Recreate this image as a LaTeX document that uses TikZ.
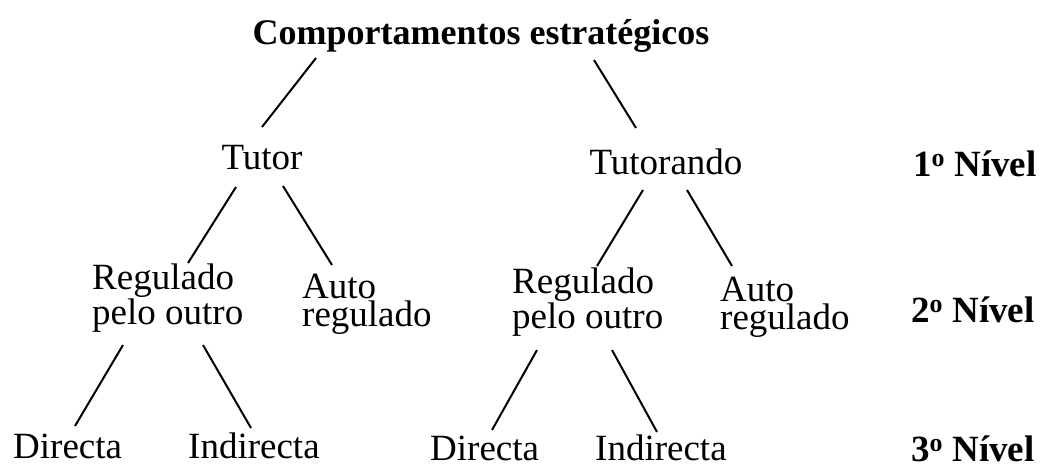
\documentclass[tikz,border=0pt]{standalone}
\usepackage{fontspec}
\setmainfont{Liberation Serif}
\usetikzlibrary{calc}
\tikzset{
  lbl/.style={inner sep=0pt, font=\fontsize{37}{28}\selectfont, align=left},
  lvl/.style={inner sep=0pt, font=\fontsize{37}{28}\selectfont\bfseries, anchor=base west},
  ramo/.style={line width=2pt},
}
\newcommand{\ordo}{\textsuperscript{o}}

\begin{document}
\begin{tikzpicture}[x=1pt,y=1pt,yscale=-1,xscale=1]
\useasboundingbox (0,0) rectangle (1040,469);

% Text Node
\draw (481,44) node [anchor=base, inner sep=0pt, font=\fontsize{36}{40}\selectfont\bfseries] (topo) {Comportamentos estratégicos};
% Text Node
\draw (262,169) node [lbl, anchor=base] (tutor) {Tutor};
\draw (666,174) node [lbl, anchor=base] (tutorando) {Tutorando};
% Text Node
\draw (92,324) node [lbl, anchor=base west] (regA) {Regulado\\pelo outro};
\draw (302,326) node [lbl, anchor=base west] (autoA) {Auto\\regulado};
\draw (512,328) node [lbl, anchor=base west] (regB) {Regulado\\pelo outro};
\draw (720,329) node [lbl, anchor=base west] (autoB) {Auto\\regulado};
% Text Node
\draw (13,458) node [lbl, anchor=base west] (dirA) {Directa};
\draw (188,458) node [lbl, anchor=base west] (indA) {Indirecta};
\draw (430,460) node [lbl, anchor=base west] (dirB) {Directa};
\draw (595,460) node [lbl, anchor=base west] (indB) {Indirecta};
% Text Node
\draw (913,176) node [lvl] (niv1) {1\ordo{} Nível};
\draw (911,322) node [lvl] (niv2) {2\ordo{} Nível};
\draw (911,461) node [lvl] (niv3) {3\ordo{} Nível};

%Straight Lines
\draw [ramo] ($(topo.base)+(-165,14)$) -- ($(tutor.base)+(0,-42)$);
\draw [ramo] ($(topo.base)+(113,16)$) -- ($(tutorando.base)+(-30,-46)$);
%Straight Lines
\draw [ramo] ($(tutor.base)+(-26,18)$) -- ($(regA.base west)+(96,-61)$);
\draw [ramo] ($(tutor.base)+(21,17)$) -- ($(autoA.base west)+(30,-61)$);
\draw [ramo] ($(tutorando.base)+(-23,16)$) -- ($(regB.base west)+(85,-62)$);
\draw [ramo] ($(tutorando.base)+(21,16)$) -- ($(autoB.base west)+(12,-63)$);
%Straight Lines
\draw [ramo] ($(regA.base west)+(31,21)$) -- ($(dirA.base west)+(62,-32)$);
\draw [ramo] ($(regA.base west)+(111,21)$) -- ($(indA.base west)+(63,-30)$);
\draw [ramo] ($(regB.base west)+(25,22)$) -- ($(dirB.base west)+(62,-30)$);
\draw [ramo] ($(regB.base west)+(100,22)$) -- ($(indB.base west)+(62,-28)$);
\end{tikzpicture}
\end{document}
